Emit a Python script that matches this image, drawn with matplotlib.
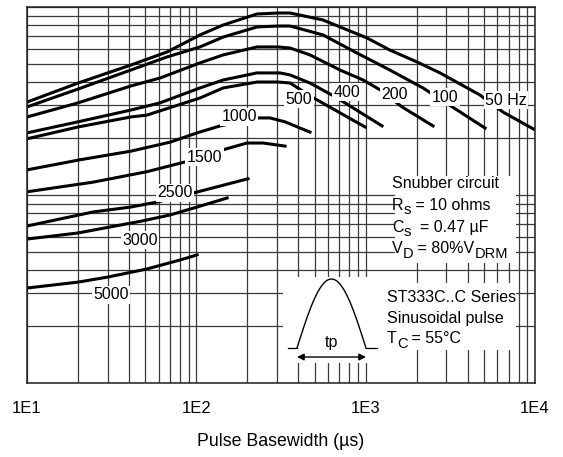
import numpy as np
import matplotlib
matplotlib.use("Agg")
import matplotlib.pyplot as plt
from matplotlib.ticker import NullFormatter
from matplotlib.patches import Rectangle

plt.rcParams['font.family'] = ['Liberation Sans', 'DejaVu Sans']

# pulse basewidth (us) and peak current, one pair per frequency
f50_t = [10, 20, 41, 67, 92, 105, 144, 228, 304, 358, 560, 1020, 1390, 2010, 2750, 4740, 6480, 10000]
f50_i = [3120, 3940, 4910, 5760, 6670, 7100, 8020, 9180, 9290, 9290, 8530, 6840, 5900, 5100, 4460, 3400, 2760, 2220]

f100_t = [10, 20, 41, 67, 105, 144, 228, 304, 358, 560, 889, 1390, 2180, 3470, 5070]
f100_i = [2940, 3660, 4620, 5420, 6130, 6920, 7830, 7920, 7920, 7100, 5690, 4620, 3710, 2830, 2270]

f200_t = [10, 20, 41, 61, 105, 144, 228, 304, 358, 469, 706, 966, 1220, 1640, 2500]
f200_i = [2600, 3090, 3800, 4190, 5040, 5560, 6130, 6130, 6050, 5560, 4620, 4090, 3620, 2940, 2330]

f400_t = [10, 20, 41, 61, 105, 144, 228, 312, 358, 469, 633, 755, 1250]
f400_i = [2140, 2450, 2830, 3090, 3710, 4090, 4460, 4460, 4350, 3940, 3400, 3090, 2330]

f500_t = [10, 20, 41, 51, 105, 144, 228, 304, 358, 482, 992]
f500_i = [1990, 2300, 2600, 2660, 3280, 3710, 3990, 3990, 3940, 3320, 2300]

f1000_t = [10, 20.6, 41, 70, 101, 138, 228, 272, 334, 469]
f1000_i = [1360, 1540, 1710, 1910, 2140, 2330, 2570, 2570, 2450, 2160]

f1500_t = [10, 24.5, 51, 86, 144, 199, 248, 334]
f1500_i = [1040, 1170, 1330, 1500, 1740, 1890, 1890, 1820]

f2500_t = [10, 24.5, 41, 59, 96, 202]
f2500_i = [684, 812, 863, 918, 1025, 1220]

f3000_t = [10, 20, 48, 70, 101, 152]
f3000_i = [583, 628, 728, 783, 863, 964]

f5000_t = [10, 20, 30, 51, 80, 101]
f5000_i = [320, 344, 366, 404, 451, 480]

label_text = ['50 Hz', '100', '200', '400', '500', '1000', '1500', '2500', '3000', '5000']
label_t = [6750, 2940, 1490, 776, 404, 179, 112, 75, 46.5, 31.3]
label_i = [3200, 3320, 3440, 3530, 3240, 2600, 1590, 1025, 576, 294]

xtick_vals = [10, 100, 1000, 10000]
xtick_text = ['1E1', '1E2', '1E3', '1E4']

curves = [(f50_t, f50_i), (f100_t, f100_i), (f200_t, f200_i), (f400_t, f400_i),
          (f500_t, f500_i), (f1000_t, f1000_i), (f1500_t, f1500_i),
          (f2500_t, f2500_i), (f3000_t, f3000_i), (f5000_t, f5000_i)]

fig = plt.figure(figsize=(5.63, 4.57), dpi=100)
ax = fig.add_axes([27/563, 1-383/457, 508/563, 376/457])

for t, i in curves:
    ax.plot(t, i, color='black', lw=2.2, zorder=2)

ax.set_xscale('log')
ax.set_yscale('log')
ax.set_xlim(10, 10000)
ax.set_ylim(100, 10000)
ax.grid(True, which='both', color='#3a3a3a', lw=0.9)
ax.set_axisbelow(True)
ax.tick_params(which='both', length=0)
ax.set_xticks(xtick_vals)
ax.set_xticklabels(xtick_text)
ax.xaxis.set_minor_formatter(NullFormatter())
ax.yaxis.set_major_formatter(NullFormatter())
ax.yaxis.set_minor_formatter(NullFormatter())
ax.tick_params(axis='x', pad=13, labelsize=12)
ax.set_xlabel('Pulse Basewidth (µs)', fontsize=12.8, labelpad=12)
for s in ax.spines.values():
    s.set_linewidth(1.1)
    s.set_color('#202020')

for txt, lt, li in zip(label_text, label_t, label_i):
    ax.text(lt, li, txt, ha='center', va='center', fontsize=11.5,
            bbox=dict(fc='white', ec='none', pad=1.0), zorder=3)

# white boxes behind the notes
ax.add_patch(Rectangle((0.7245, 0.319), 0.2381, 0.2315, transform=ax.transAxes,
                       fc='white', ec='none', zorder=2.5))
ax.add_patch(Rectangle((0.7028, 0.0878), 0.2598, 0.1782, transform=ax.transAxes,
                       fc='white', ec='none', zorder=2.5))
ax.add_patch(Rectangle((0.504, 0.0532), 0.1988, 0.2287, transform=ax.transAxes,
                       fc='white', ec='none', zorder=2.5))

renderer = fig.canvas.get_renderer()


def text_run(x, y, parts):
    # parts: (text, drop in px, fontsize); pieces placed one after another
    px, py = ax.transAxes.transform((x, y))
    for txt, drop, size in parts:
        t = ax.text(px, py - drop, txt, transform=None, ha='left', va='baseline',
                    fontsize=size, zorder=3)
        px = t.get_window_extent(renderer).x1


text_run(0.7185, 0.5186, [('Snubber circuit', 0, 11.5)])
text_run(0.7185, 0.4601, [('R', 0, 11.5), ('s', 4, 11), (' = 10 ohms', 0, 11.5)])
text_run(0.7185, 0.4016, [('C', 0, 11.5), ('s', 4, 11), ('  = 0.47 µF', 0, 11.5)])
text_run(0.7185, 0.3457, [('V', 0, 11.5), ('D', 5, 10.5), (' = 80%V', 0, 11.5), ('DRM', 5, 10.5)])

text_run(0.7087, 0.2154, [('ST333C..C Series', 0, 11.5)])
text_run(0.7087, 0.1596, [('Sinusoidal pulse', 0, 11.5)])
text_run(0.7087, 0.1064, [('T', 0, 11.5), ('C', 5, 10.5), (' = 55°C', 0, 11.5)])

# pulse sketch
p_left, p_right, p_base, p_top = 0.5315, 0.6673, 0.0931, 0.2766
s = np.linspace(0, 1, 60)
ax.plot(p_left + s*(p_right-p_left), p_base + (p_top-p_base)*np.sin(np.pi*s),
        transform=ax.transAxes, color='black', lw=1.0, zorder=3)
ax.plot([0.5138, p_left], [p_base, p_base], transform=ax.transAxes, color='black', lw=0.9, zorder=3)
ax.plot([p_right, 0.689], [p_base, p_base], transform=ax.transAxes, color='black', lw=0.9, zorder=3)
ax.annotate('', xy=(p_left, 0.0691), xytext=(p_right, 0.0691), xycoords='axes fraction',
            arrowprops=dict(arrowstyle='<|-|>', color='black', lw=1.0, mutation_scale=10,
                            shrinkA=0, shrinkB=0), zorder=3)
ax.text((p_left+p_right)/2, 0.0957, 'tp', transform=ax.transAxes, ha='center',
        va='baseline', fontsize=11.5, zorder=3)

fig.savefig('out.png', dpi=100)
